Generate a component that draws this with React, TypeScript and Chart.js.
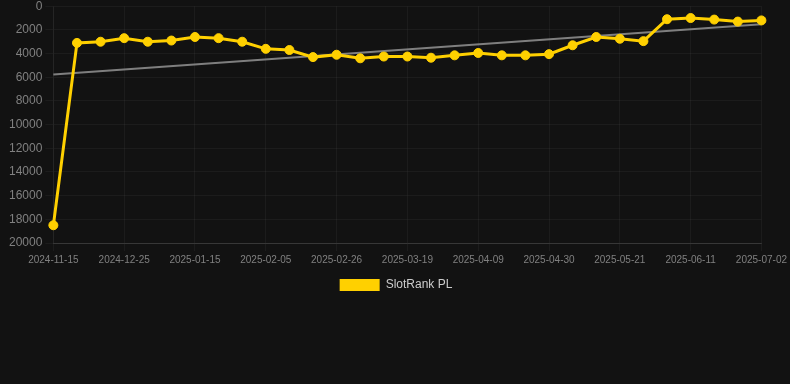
import React, { useEffect, useRef } from "react";
import { Chart, registerables } from "chart.js";

Chart.register(...registerables);

const labels: string[] = [
  "2024-11-15", "2024-12-11", "2024-12-18", "2024-12-25", "2025-01-01", "2025-01-08",
  "2025-01-15", "2025-01-22", "2025-01-29", "2025-02-05", "2025-02-12", "2025-02-19",
  "2025-02-26", "2025-03-05", "2025-03-12", "2025-03-19", "2025-03-26", "2025-04-02",
  "2025-04-09", "2025-04-16", "2025-04-23", "2025-04-30", "2025-05-07", "2025-05-14",
  "2025-05-21", "2025-05-28", "2025-06-04", "2025-06-11", "2025-06-18", "2025-06-25",
  "2025-07-02",
];

const rankValues: number[] = [
  18500, 3100, 3000, 2700, 3000, 2900, 2600, 2700, 3000, 3600, 3700, 4300,
  4100, 4400, 4250, 4250, 4350, 4150, 3950, 4150, 4150, 4050, 3300, 2600,
  2750, 2950, 1100, 1000, 1130, 1300, 1200,
];

const trendValues: (number | null)[] = labels.map((_, i) =>
  i === 0 ? 5770 : i === labels.length - 1 ? 1520 : null
);

const yTicks = { min: 0, max: 20000, step: 2000 };

export default function App() {
  const ref = useRef<HTMLCanvasElement | null>(null);
  useEffect(() => {
    if (!ref.current) return;
    const chart = new Chart(ref.current, {
      type: "line",
      data: {
        labels,
        datasets: [
          {
            label: "SlotRank PL",
            data: rankValues,
            borderColor: "#FFD000",
            backgroundColor: "#FFD000",
            borderWidth: 3,
            pointRadius: 4.5,
            pointHoverRadius: 4.5,
            pointBorderWidth: 1,
            pointBackgroundColor: "#FFD000",
            pointBorderColor: "#FFD000",
            tension: 0,
          },
          {
            label: "trend",
            data: trendValues,
            borderColor: "rgba(140,140,140,0.9)",
            backgroundColor: "rgba(140,140,140,0.9)",
            borderWidth: 2,
            pointRadius: 0,
            spanGaps: true,
          },
        ],
      },
      options: {
        animation: false,
        responsive: true,
        maintainAspectRatio: false,
        layout: { padding: { left: 6, right: 4, top: 0, bottom: 83 } },
        plugins: {
          legend: {
            position: "bottom",
            labels: {
              color: "#cccccc",
              font: { size: 12 },
              boxWidth: 40,
              boxHeight: 12,
              generateLabels: (c) =>
                Chart.defaults.plugins.legend.labels
                  .generateLabels(c)
                  .filter((item) => item.text !== "trend")
                  .map((item) => ({ ...item, lineWidth: 0 })),
            },
          },
          tooltip: { enabled: false },
        },
        scales: {
          x: {
            grid: { color: "rgba(255,255,255,0.045)", tickColor: "rgba(255,255,255,0.045)" },
            border: { color: "rgba(255,255,255,0.12)" },
            ticks: {
              color: "#808080",
              font: { size: 10 },
              maxRotation: 0,
              autoSkip: true,
              maxTicksLimit: 11,
            },
          },
          y: {
            reverse: true,
            min: yTicks.min,
            max: yTicks.max,
            grid: { color: "rgba(255,255,255,0.045)", tickColor: "rgba(255,255,255,0.045)" },
            border: { color: "rgba(255,255,255,0.045)" },
            ticks: {
              color: "#808080",
              font: { size: 12 },
              stepSize: yTicks.step,
              callback: (v) => String(v),
            },
          },
        },
      },
    });
    return () => chart.destroy();
  }, []);
  return (
    <div style={{ position: "absolute", left: 0, top: -4, width: 790, height: 388, background: "#121212" }}>
      <canvas ref={ref} />
    </div>
  );
}
